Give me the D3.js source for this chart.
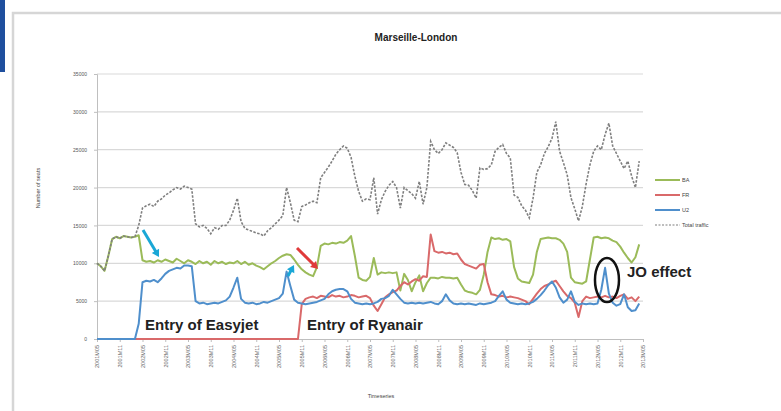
<!DOCTYPE html>
<html>
<head>
<meta charset="utf-8">
<script src="https://cdn.jsdelivr.net/npm/d3@7"></script>
<style>
  body { margin: 0; background: #fff; }
  text { font-family: "Liberation Sans", Arial, sans-serif; }
</style>
</head>
<body>
<svg id="chart" width="781" height="411"></svg>
<script>
// Marseille-London, seats per month
const tickLabels = ['2001M05','2001M11','2002M05','2002M11','2003M05','2003M11','2004M05','2004M11',
  '2005M05','2005M11','2006M05','2006M11','2007M05','2007M11','2008M05','2008M11','2009M05','2009M11',
  '2010M05','2010M11','2011M05','2011M11','2012M05','2012M11','2013M05'];
const yTicks = [0, 5000, 10000, 15000, 20000, 25000, 30000, 35000];

const ba = [10000,9600,9000,11000,13200,13500,13300,13600,13500,13400,13500,13700,10400,10200,10300,10100,
  10400,10200,10500,10300,10100,10600,10300,10000,10400,10200,9900,10300,10000,10200,9800,10300,10000,10200,
  9900,10100,10000,10300,9900,10200,9800,10000,9700,9500,9200,9600,10000,10300,10700,11000,11200,11100,10500,
  9800,9200,8800,8500,8300,9500,12300,12600,12500,12700,12600,12800,12700,13000,13600,11000,8100,7800,7700,
  8200,10700,8500,8800,8700,8800,8700,8800,6400,8600,7800,6300,7500,8400,6300,7400,8100,8100,8000,8200,8100,
  8100,8000,8100,7200,6400,6200,6100,5900,6500,8500,11500,13400,13200,13300,13100,13200,12900,9500,8000,7600,
  7500,7400,8500,11500,13200,13300,13400,13300,13300,13100,12600,11500,8100,7500,7400,7300,7600,10500,13400,
  13500,13300,13400,13300,13000,12800,12200,11400,10700,10100,10800,12500];

const fr = [0,0,0,0,0,0,0,0,0,0,0,0,0,0,0,0,0,0,0,0,0,0,0,0,0,0,0,0,0,0,0,0,0,0,0,0,0,0,0,0,0,0,0,0,0,0,0,0,
  0,0,0,0,0,0,4600,5300,5500,5600,5400,5700,5600,5500,5800,5600,5700,5500,5600,5800,5700,5500,5600,5700,5400,
  4400,3700,4600,5500,5900,6200,6400,7000,7500,7200,7600,7900,7700,8300,8200,13800,11600,11400,11500,11300,
  11400,11200,11300,10500,9900,9700,9500,9300,9800,9900,7500,5900,5800,5600,5700,5500,5600,5500,5400,5200,
  5000,4600,5300,6000,6600,7000,7200,7500,7700,7000,6300,5700,5400,4800,2900,5000,5600,5400,5500,5600,5500,
  5700,5500,5600,5400,5700,5900,5300,5500,5000,5600];

const u2 = [0,0,0,0,0,0,0,0,0,0,0,2000,7500,7700,7600,7800,7500,8000,8600,9000,9200,9400,9300,9700,9700,9600,
  5000,4700,4800,4600,4700,4800,4700,4900,5100,5600,6800,8100,5300,4800,4700,4800,4600,4700,4900,4800,5000,
  5200,5400,6000,8900,7000,5200,4800,4700,4600,4700,4800,4900,5100,5300,5900,6300,6500,6600,6600,6300,5300,
  4800,4700,4600,4700,4600,4700,4900,5300,5400,5700,6500,5900,5300,4800,4700,4800,4700,4800,4700,4800,4900,
  4700,4600,5000,5900,5100,4700,4600,4700,4600,4700,4600,4500,4700,4600,4700,4800,5000,5700,6300,5200,4800,
  4700,4600,4700,4600,4700,4900,5300,5800,6400,7100,7600,6800,5500,4800,5200,6300,4900,4500,4700,4600,4700,
  4600,4700,6500,9400,6000,4800,4400,4600,5900,4200,3700,3800,4700];

const total = [10000,9600,9000,11000,13200,13500,13300,13600,13500,13400,13500,15000,17300,17600,17800,17500,
  18200,18500,19000,19300,19700,20000,19800,20200,20000,19800,15200,14800,15000,14600,13900,14700,14500,15000,
  15000,15700,17000,18600,15500,14600,14400,14200,14000,13900,13600,14300,14700,15200,15700,16300,20000,18000,
  15700,15500,17500,17700,18000,18200,18000,21300,22000,22700,23500,24400,25000,25500,25200,24000,21500,19500,
  18200,18500,18400,21300,16500,18400,19500,20300,20800,20000,17300,20000,19600,19200,18600,20800,17800,20000,
  26100,25000,24500,25000,25900,25600,25300,24600,22000,20400,20300,19600,18600,22600,22400,22500,23000,24800,
  25300,25700,24500,23900,19000,18700,17600,17000,16000,18600,22000,23000,24500,25400,26500,28700,24800,23300,
  21700,18650,17200,15600,17500,20500,23000,24800,25500,25000,27000,28500,25500,24500,23500,22500,23500,21500,
  20000,23500];

const seriesNames = ['BA', 'FR', 'U2', 'Total traffic'];
const seriesColors = ['#9bbb59', '#d9696a', '#4f8fcc', '#7f7f7f'];

const svg = d3.select('#chart');
svg.append('rect').attr('width', 781).attr('height', 411).attr('fill', '#fff');

// slide frame
svg.append('rect').attr('x', 13).attr('y', 13).attr('width', 800).attr('height', 420)
  .attr('fill', 'none').attr('stroke', '#d6d6d6').attr('stroke-width', 2.5);
svg.append('rect').attr('x', 0).attr('y', 0).attr('width', 5).attr('height', 72).attr('fill', '#1f4f9e');

const x = d3.scaleLinear().domain([0, 144]).range([97, 643]);
const y = d3.scaleLinear().domain([0, 35000]).range([339, 74]);

// grid
svg.append('g').selectAll('line').data(yTicks.slice(1)).enter().append('line')
  .attr('x1', 97).attr('x2', 643).attr('y1', d => y(d)).attr('y2', d => y(d))
  .attr('stroke', '#d9d9d9').attr('stroke-width', 1.2);

const yAxis = svg.append('g').attr('transform', 'translate(97,0)')
  .call(d3.axisLeft(y).tickValues(yTicks).tickSize(3).tickFormat(d3.format('d')));
yAxis.select('.domain').attr('stroke', '#bfbfbf');
yAxis.selectAll('.tick line').attr('stroke', '#bfbfbf');
yAxis.selectAll('text').attr('font-size', 5).attr('fill', '#555').attr('dx', -4);

const xAxis = svg.append('g').attr('transform', 'translate(0,339)')
  .call(d3.axisBottom(x).tickValues(d3.range(0, 145, 6)).tickSize(3).tickFormat((d, i) => tickLabels[i]));
xAxis.select('.domain').attr('stroke', '#bfbfbf');
xAxis.selectAll('.tick line').attr('stroke', '#bfbfbf');
xAxis.selectAll('text').attr('font-size', 5.5).attr('fill', '#666')
  .attr('transform', 'rotate(-90)').attr('text-anchor', 'end')
  .attr('x', -6).attr('y', 0).attr('dy', '0.35em');

// titles
svg.append('text').attr('x', 416).attr('y', 41).attr('text-anchor', 'middle')
  .attr('font-size', 10).attr('font-weight', 'bold').attr('fill', '#222').text('Marseille-London');
svg.append('text').attr('transform', 'translate(40,188) rotate(-90)').attr('text-anchor', 'middle')
  .attr('font-size', 5.5).attr('fill', '#444').text('Number of seats');
svg.append('text').attr('x', 381).attr('y', 398).attr('text-anchor', 'middle')
  .attr('font-size', 5.5).attr('fill', '#444').text('Timeseries');

// lines
const line = d3.line().x((d, i) => x(i)).y(d => y(d));
[ba, fr, u2].forEach((s, k) => {
  svg.append('path').attr('d', line(s)).attr('fill', 'none')
    .attr('stroke', seriesColors[k]).attr('stroke-width', 2).attr('stroke-linejoin', 'round');
});
svg.append('path').attr('d', line(total)).attr('fill', 'none')
  .attr('stroke', seriesColors[3]).attr('stroke-width', 1.6).attr('stroke-dasharray', '2.5,1.5');

// legend
const legend = svg.append('g');
seriesNames.forEach((n, k) => {
  const ly = 180 + k * 15;
  legend.append('line').attr('x1', 655).attr('x2', 680).attr('y1', ly).attr('y2', ly)
    .attr('stroke', seriesColors[k]).attr('stroke-width', k === 3 ? 1.2 : 2)
    .attr('stroke-dasharray', k === 3 ? '2,1.5' : null);
  legend.append('text').attr('x', 682).attr('y', ly).attr('dy', '0.35em')
    .attr('font-size', 5.5).attr('fill', '#444').text(n);
});

// annotations
function arrow(x1, y1, x2, y2, color) {
  const a = Math.atan2(y2 - y1, x2 - x1), h = 7;
  svg.append('line').attr('x1', x1).attr('y1', y1)
    .attr('x2', x2 - Math.cos(a) * h * 0.7).attr('y2', y2 - Math.sin(a) * h * 0.7)
    .attr('stroke', color).attr('stroke-width', 3);
  const p = [[x2, y2],
    [x2 - h * Math.cos(a) + h * 0.6 * Math.sin(a), y2 - h * Math.sin(a) - h * 0.6 * Math.cos(a)],
    [x2 - h * Math.cos(a) - h * 0.6 * Math.sin(a), y2 - h * Math.sin(a) + h * 0.6 * Math.cos(a)]];
  svg.append('path').attr('d', 'M' + p.join('L') + 'Z').attr('fill', color);
}
arrow(143, 230, 159, 257, '#1aa7d6');
arrow(288, 276, 294, 265, '#1aa7d6');
arrow(297, 248, 318, 269, '#e03a3a');

svg.append('ellipse').attr('cx', x(134.5)).attr('cy', 280).attr('rx', 12).attr('ry', 22)
  .attr('fill', 'none').attr('stroke', '#111').attr('stroke-width', 2.5);

const notes = [
  { text: 'Entry of Easyjet', x: 145, y: 330 },
  { text: 'Entry of Ryanair', x: 307, y: 330 },
  { text: 'JO effect', x: 627, y: 277 }
];
svg.append('g').selectAll('text').data(notes).enter().append('text')
  .attr('x', d => d.x).attr('y', d => d.y).attr('font-size', 15).attr('font-weight', 'bold')
  .attr('fill', '#222').text(d => d.text);
</script>
</body>
</html>
